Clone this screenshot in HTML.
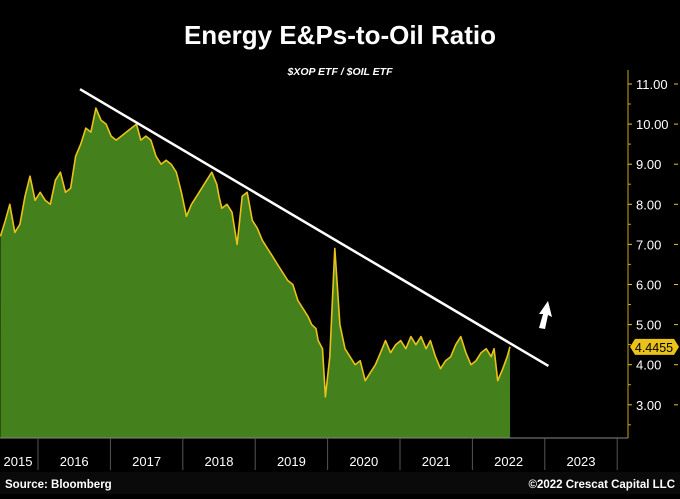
<!DOCTYPE html>
<html><head><meta charset="utf-8"><style>
body{margin:0;background:#000;width:680px;height:494px;overflow:hidden;font-family:"Liberation Sans",sans-serif}
</style></head><body>
<svg width="680" height="494">
<rect width="680" height="494" fill="#000"/>
<text x="340" y="44" fill="#fff" font-size="26" font-weight="bold" text-anchor="middle">Energy E&amp;Ps-to-Oil Ratio</text>
<text x="340" y="75" fill="#fff" font-size="10.5" font-weight="bold" font-style="italic" text-anchor="middle">$XOP ETF / $OIL ETF</text>
<g id="plot"></g>
<g id="axes"></g>
<rect x="0" y="472" width="680" height="22" fill="#0a0a0a"/>
<text x="5" y="488" fill="#fff" font-size="11.5" font-weight="bold">Source: Bloomberg</text>
<text x="675" y="488" fill="#fff" font-size="11.5" font-weight="bold" text-anchor="end">©2022 Crescat Capital LLC</text>
</svg>
<script>
const dates=[2015.48,2015.55,2015.61,2015.68,2015.75,2015.82,2015.89,2015.96,2016.03,2016.1,2016.17,2016.24,2016.31,2016.38,2016.45,2016.52,2016.59,2016.66,2016.73,2016.8,2016.87,2016.94,2017.01,2017.08,2017.15,2017.22,2017.29,2017.36,2017.42,2017.49,2017.56,2017.63,2017.7,2017.77,2017.84,2017.91,2017.98,2018.05,2018.12,2018.19,2018.26,2018.33,2018.4,2018.47,2018.5,2018.54,2018.61,2018.68,2018.75,2018.82,2018.89,2018.96,2019.03,2019.1,2019.17,2019.24,2019.31,2019.38,2019.45,2019.52,2019.59,2019.66,2019.73,2019.78,2019.84,2019.87,2019.9,2019.93,2019.97,2020.03,2020.1,2020.17,2020.24,2020.31,2020.38,2020.45,2020.52,2020.59,2020.66,2020.73,2020.8,2020.87,2020.94,2021.01,2021.08,2021.15,2021.22,2021.29,2021.36,2021.42,2021.49,2021.56,2021.63,2021.7,2021.77,2021.84,2021.91,2021.98,2022.05,2022.12,2022.19,2022.26,2022.3,2022.35,2022.42,2022.48,2022.52];
const ratio=[7.2,7.6,8.0,7.3,7.5,8.2,8.7,8.1,8.3,8.1,8.0,8.6,8.8,8.3,8.4,9.2,9.5,9.9,9.8,10.4,10.1,10.0,9.7,9.6,9.7,9.8,9.9,10.0,9.6,9.7,9.6,9.2,9.0,9.1,9.0,8.8,8.3,7.7,8.0,8.2,8.4,8.6,8.8,8.5,8.2,7.9,8.0,7.8,7.0,8.2,8.3,7.6,7.4,7.1,6.9,6.7,6.5,6.3,6.1,6.0,5.6,5.4,5.2,5.0,4.9,4.6,4.5,4.4,3.2,4.2,6.9,5.0,4.4,4.2,4.0,4.1,3.6,3.8,4.0,4.3,4.6,4.3,4.5,4.6,4.4,4.7,4.5,4.7,4.4,4.6,4.2,3.9,4.1,4.2,4.5,4.7,4.3,4.0,4.1,4.3,4.4,4.2,4.4,3.6,3.9,4.2,4.45];
const yTicks=[3,4,5,6,7,8,9,10,11];
const years=[2015,2016,2017,2018,2019,2020,2021,2022,2023];
const trendStart=[2016.58,10.87];
const trendEnd=[2023.05,3.97];
const lastValue="4.4455";
const X=d=>38+(d-2016)*72.4;
const Y=v=>84+(11-v)*40.1;
const ns="http://www.w3.org/2000/svg";
function mk(t,a,p){const e=document.createElementNS(ns,t);for(const k in a)e.setAttribute(k,a[k]);p.appendChild(e);return e;}
const plot=document.getElementById('plot'),axes=document.getElementById('axes');
const base=438;
let pts=dates.map((d,i)=>X(d).toFixed(1)+','+Y(ratio[i]).toFixed(1));
const area=mk('polygon',{points:X(dates[0])+','+base+' '+pts.join(' ')+' '+X(dates[dates.length-1])+','+base,fill:'#44801c'},plot);


const line=mk('polyline',{points:pts.join(' '),fill:'none',stroke:'#e9c21a','stroke-width':1.6,'stroke-linejoin':'round'},plot);


const tl=mk('line',{x1:X(trendStart[0]),y1:Y(trendStart[1]),x2:X(trendEnd[0]),y2:Y(trendEnd[1]),stroke:'#fff','stroke-width':2.5},plot);


const ar=mk('path',{d:'M539,328 L543,314 L539,314 L548,301 L552,317 L548,315 L545,329 Z',fill:'#fff'},plot);


mk('line',{x1:0,y1:base,x2:628,y2:base,stroke:'#888','stroke-width':1},axes);
mk('line',{x1:628,y1:70,x2:628,y2:438,stroke:'#c9a816','stroke-width':1},axes);
yTicks.forEach(v=>{
 const y=Y(v);
 mk('line',{x1:628,y1:y,x2:632,y2:y,stroke:'#e9c21a'},axes);
 mk('line',{x1:674,y1:y,x2:678,y2:y,stroke:'#e9c21a'},axes);
 mk('line',{x1:628,y1:y+20,x2:631,y2:y+20,stroke:'#c9a816'},axes);
 const t=mk('text',{x:636,y:y+5,fill:'#fff','font-size':13},axes);t.textContent=v.toFixed(2);
 
 
});
const ly=Y(parseFloat(lastValue));
const badge=mk('path',{d:`M630,${ly} L635,${ly-8} L674,${ly-8} L679,${ly} L674,${ly+8} L635,${ly+8} Z`,fill:'#e9c21a'},axes);


const bt=mk('text',{x:654,y:ly+5,fill:'#000','font-size':12.5,'text-anchor':'middle'},axes);bt.textContent=lastValue;


years.forEach(yr=>{
 const x0=X(yr),x1=X(yr+1);
 if(yr>2015) mk('line',{x1:x0,y1:base,x2:x0,y2:470,stroke:'#555'},axes);
 const cx=yr===2015?18:(x0+x1)/2;
 const t=mk('text',{x:cx,y:466,fill:'#fff','font-size':13,'text-anchor':'middle'},axes);t.textContent=yr;
 
 
});
mk('line',{x1:X(2024),y1:base,x2:X(2024),y2:470,stroke:'#555'},axes);
</script>
</body></html>
